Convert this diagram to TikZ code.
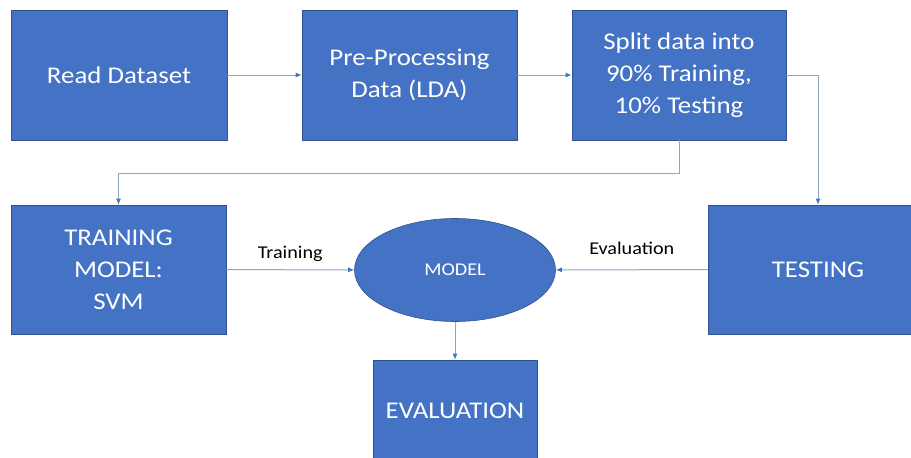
\documentclass[tikz,border=0pt]{standalone}
\usepackage{fontspec}
\setmainfont{Carlito}[FakeStretch=1.12]
\usetikzlibrary{shapes.geometric,arrows.meta}
\definecolor{boxfill}{HTML}{4472C4}
\definecolor{boxline}{HTML}{2F528F}
\definecolor{arrowc}{HTML}{8FA3C4}
\definecolor{tipc}{HTML}{4472C4}
\begin{document}
\begin{tikzpicture}[x=1pt,y=-1pt,
  box/.style={draw=boxline, line width=0.6pt, fill=boxfill, text=white, align=center,
    inner sep=0pt, font=\fontsize{24}{32}\selectfont},
  conn/.style={draw=arrowc, line width=1pt, -{Latex[length=6pt,width=5pt,color=tipc]}},
  lbl/.style={font=\fontsize{18}{20}\selectfont, text=black}]
\useasboundingbox (0,0) rectangle (911,458);
\node[box, minimum width=216pt, minimum height=130pt] (read) at (119,75) {Read Dataset};
\node[box, minimum width=215pt, minimum height=130pt] (pre) at (409.5,75) {Pre-Processing\\Data (LDA)};
\node[box, minimum width=214pt, minimum height=130pt] (split) at (679,75) {Split data into\\90\% Training,\\10\% Testing};
\node[box, minimum width=215pt, minimum height=129pt] (train) at (118.5,269.5) {TRAINING\\MODEL:\\SVM};
\node[box, minimum width=220pt, minimum height=129pt] (test) at (818,269.5) {TESTING};
\node[box, ellipse, minimum width=201pt, minimum height=103pt, font=\fontsize{18}{20}\selectfont] (model) at (455,270) {MODEL};
\node[box, minimum width=164pt, minimum height=102pt] (eval) at (455,411) {EVALUATION};
\draw[conn] (read) -- (pre);
\draw[conn] (pre) -- (split);
\draw[conn] (split.east) -| (test.north);
\draw[conn] (split.south) -- ++(0,33) -| (train.north);
\draw[conn] (train) -- node[lbl, above=4pt] {Training} (model);
\draw[conn] (test) -- node[lbl, above=11pt] {Evaluation} (model);
\draw[conn] (model) -- (eval);
\end{tikzpicture}
\end{document}
